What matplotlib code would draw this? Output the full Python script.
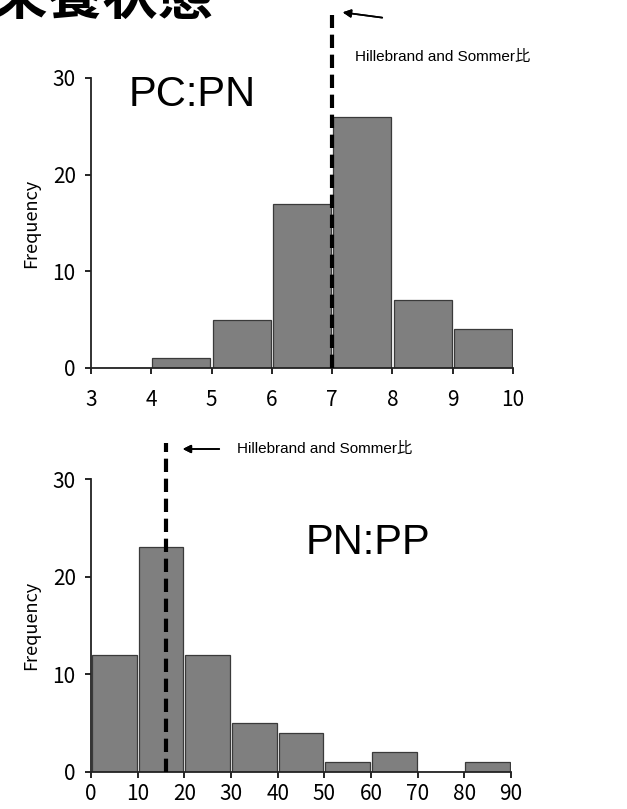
import matplotlib
matplotlib.use("Agg")
import matplotlib.pyplot as plt
import numpy as np

# PC:PN histogram (bin edges and counts)
pcpn_edges = [3, 4, 5, 6, 7, 8, 9, 10]
pcpn_counts = [0, 1, 5, 17, 26, 7, 4]
pcpn_ref = 7.0

# PN:PP histogram
pnpp_edges = [0, 10, 20, 30, 40, 50, 60, 70, 80, 90]
pnpp_counts = [12, 23, 12, 5, 4, 1, 2, 0, 1]
pnpp_ref = 16.0

yticks = [0, 10, 20, 30]
ref_label = "Hillebrand and Sommer比"
title = "栄養状態"

tick_font = ["Noto Sans CJK JP", "DejaVu Sans"]
ann_font = ["Liberation Sans", "Noto Sans CJK JP"]

W, H = 627, 809
fig = plt.figure(figsize=(W / 100, H / 100), dpi=100)

def px(x, y):
    # pixel (from top-left) -> figure fraction
    return x / W, 1 - y / H

def draw_hist(ax, edges, counts, xticks, xpad):
    edges = np.array(edges, dtype=float)
    widths = np.diff(edges)
    ax.bar(edges[:-1] + widths * 0.02, counts, width=widths * 0.96, align="edge",
           color="#7f7f7f", edgecolor="#3a3a3a", linewidth=0.9, zorder=2)
    ax.set_xlim(edges[0], edges[-1])
    ax.set_ylim(0, 30)
    ax.set_yticks(yticks)
    ax.set_xticks(xticks)
    for s in ["top", "right"]:
        ax.spines[s].set_visible(False)
    for s in ["left", "bottom"]:
        ax.spines[s].set_linewidth(1.3)
        ax.spines[s].set_color("#222222")
    ax.tick_params(direction="out", length=4, width=1.2, labelsize=15)
    ax.tick_params(axis="x", pad=xpad)
    ax.tick_params(axis="y", pad=7)
    for lab in ax.get_xticklabels() + ax.get_yticklabels():
        lab.set_family(tick_font)
    ax.set_ylabel("Frequency", fontsize=13, family=tick_font, labelpad=9)

# top panel
l, b = px(91, 368)
r, t = px(513, 78)
ax1 = fig.add_axes([l, b, r - l, t - b])
draw_hist(ax1, pcpn_edges, pcpn_counts, pcpn_edges, 11)
ax1.plot([pcpn_ref, pcpn_ref], [0, 36.5], ls=(0, (3.2, 1.6)), color="black",
         lw=3, clip_on=False, zorder=3)
ax1.text(0.24, 0.94, "PC:PN", transform=ax1.transAxes, fontsize=30,
         family=ann_font, va="center", ha="center")

# bottom panel
l, b = px(91, 772)
r, t = px(511, 479)
ax2 = fig.add_axes([l, b, r - l, t - b])
draw_hist(ax2, pnpp_edges, pnpp_counts, pnpp_edges, 4)
ax2.plot([pnpp_ref, pnpp_ref], [0, 33.7], ls=(0, (3.2, 1.6)), color="black",
         lw=3, clip_on=False, zorder=3)
ax2.text(0.66, 0.78, "PN:PP", transform=ax2.transAxes, fontsize=30,
         family=ann_font, va="center", ha="center")

# arrows and reference labels
fig.add_artist(plt.annotate("", xy=px(340, 12), xytext=px(385, 18),
                            xycoords="figure fraction", textcoords="figure fraction",
                            arrowprops=dict(arrowstyle="-|>", color="black", lw=1.2,
                                            mutation_scale=12)))
fig.text(*px(355, 57), ref_label, fontsize=11, family=ann_font, va="center", ha="left")

fig.add_artist(plt.annotate("", xy=px(180, 449), xytext=px(222, 449),
                            xycoords="figure fraction", textcoords="figure fraction",
                            arrowprops=dict(arrowstyle="-|>", color="black", lw=1.2,
                                            mutation_scale=12)))
fig.text(*px(237, 449), ref_label, fontsize=11, family=ann_font, va="center", ha="left")

# title, cut off at the top edge as in the source image
fig.text(*px(-8, 14), title, fontsize=40, fontweight="bold", family=tick_font,
         va="baseline", ha="left")

fig.savefig("out.png", dpi=100)
